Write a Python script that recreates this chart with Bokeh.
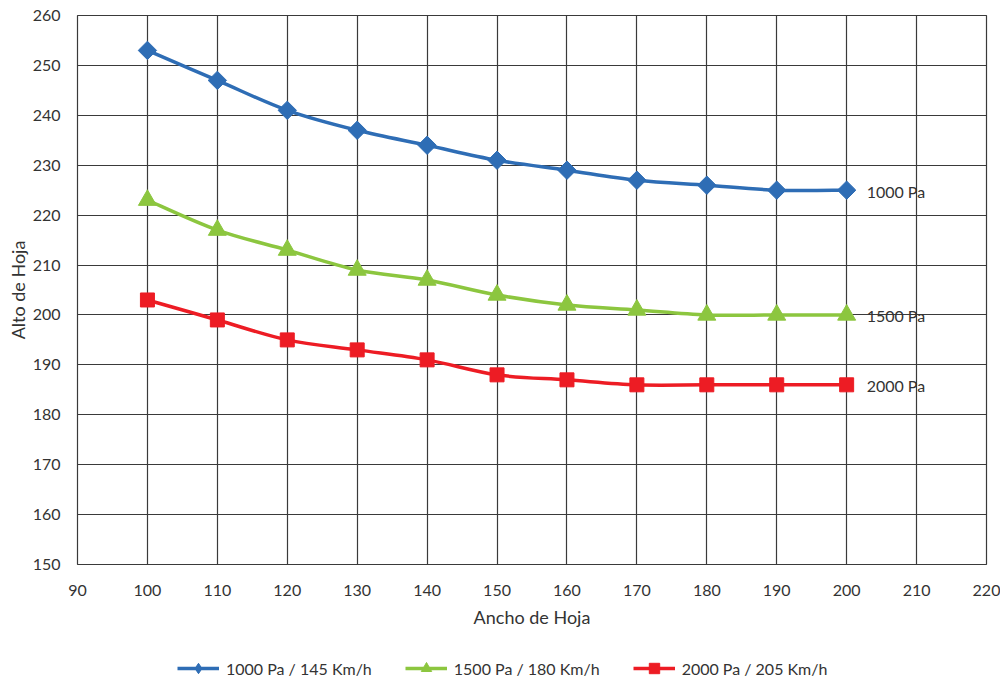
import numpy as np
from bokeh.plotting import figure
from bokeh.layouts import column
from bokeh.models import (Range1d, Legend, LegendItem, FixedTicker, ColumnDataSource)
from bokeh.core.properties import value
from bokeh.embed import file_html
from bokeh.resources import INLINE

# ---- data ----
ancho = [100, 110, 120, 130, 140, 150, 160, 170, 180, 190, 200]
alto_1000 = [253, 247, 241, 237, 234, 231, 229, 227, 226, 225, 225]
alto_1500 = [223, 217, 213, 209, 207, 204, 202, 201, 200, 200, 200]
alto_2000 = [203, 199, 195, 193, 191, 188, 187, 186, 186, 186, 186]
series_names = ["1000 Pa / 145 Km/h", "1500 Pa / 180 Km/h", "2000 Pa / 205 Km/h"]
end_labels = ["1000 Pa", "1500 Pa", "2000 Pa"]
x_ticks = [90, 100, 110, 120, 130, 140, 150, 160, 170, 180, 190, 200, 210, 220]
y_ticks = [150, 160, 170, 180, 190, 200, 210, 220, 230, 240, 250, 260]

FONT = "Lato"
TXT = "#333333"
GRID = "#3a3a3a"

colors = ["#2E6DB5", "#8CC63F", "#ED1C24"]
markers = ["square", "triangle", "square"]
legend_markers = ["diamond", "triangle", "square"]
angles = [np.pi / 4, 0, 0]
sizes = [13, 18, 14]
series = [alto_1000, alto_1500, alto_2000]


def smooth_segments(xs, ys):
    x = np.asarray(xs, float)
    y = np.asarray(ys, float)
    n = len(x)
    xp = np.concatenate([[x[0]], x, [x[-1]]])
    yp = np.concatenate([[y[0]], y, [y[-1]]])
    return dict(
        x0=xp[1:n], y0=yp[1:n],
        x1=xp[2:n + 1], y1=yp[2:n + 1],
        cx0=xp[1:n] + (xp[2:n + 1] - xp[0:n - 1]) / 6,
        cy0=yp[1:n] + (yp[2:n + 1] - yp[0:n - 1]) / 6,
        cx1=xp[2:n + 1] - (xp[3:n + 2] - xp[1:n]) / 6,
        cy1=yp[2:n + 1] - (yp[3:n + 2] - yp[1:n]) / 6,
    )


p = figure(width=1000, height=637, output_backend="svg", toolbar_location=None,
           x_range=Range1d(90, 220), y_range=Range1d(150, 260))
p.min_border_left = 77
p.min_border_top = 15
p.min_border_right = 14
p.min_border_bottom = 73

p.outline_line_color = GRID
p.outline_line_width = 1.2

for ax, ticks in ((p.xaxis[0], x_ticks), (p.yaxis[0], y_ticks)):
    ax.ticker = FixedTicker(ticks=ticks)
    ax.axis_line_color = None
    ax.major_tick_line_color = None
    ax.minor_tick_line_color = None
    ax.major_tick_out = 0
    ax.major_tick_in = 0
    ax.major_label_text_font = FONT
    ax.major_label_text_font_size = "16px"
    ax.major_label_text_color = TXT
    ax.axis_label_text_font = FONT
    ax.axis_label_text_font_size = "18px"
    ax.axis_label_text_font_style = "normal"
    ax.axis_label_text_color = TXT

p.xaxis.axis_label = "Ancho de Hoja"
p.yaxis.axis_label = "Alto de Hoja"
p.xaxis.major_label_standoff = 20
p.yaxis.major_label_standoff = 17
p.xaxis.axis_label_standoff = 7
p.yaxis.axis_label_standoff = 1

p.xgrid.ticker = FixedTicker(ticks=x_ticks)
p.ygrid.ticker = FixedTicker(ticks=y_ticks)
for g in (p.xgrid[0], p.ygrid[0]):
    g.grid_line_color = GRID
    g.grid_line_width = 1.2

for ys, c, m, a, s in zip(series, colors, markers, angles, sizes):
    seg = ColumnDataSource(smooth_segments(ancho, ys))
    p.bezier(x0="x0", y0="y0", x1="x1", y1="y1", cx0="cx0", cy0="cy0",
             cx1="cx1", cy1="cy1", source=seg, line_color=c, line_width=3.5)
    p.scatter(x=ancho, y=ys, marker=m, size=s, angle=a,
              fill_color=c, line_color=c, line_width=1)

lab_src = ColumnDataSource(dict(
    x=[ancho[-1]] * 3,
    y=[s[-1] for s in series],
    t=end_labels,
))
p.text(x="x", y="y", text="t", source=lab_src, x_offset=20, y_offset=1,
       text_font=value(FONT), text_font_size="16px", text_color=TXT,
       text_baseline="middle", text_align="left")

# ---- legend strip (its renderers lie outside its visible range) ----
lg = figure(width=1000, height=43, output_backend="svg", toolbar_location=None,
            x_range=Range1d(0, 1), y_range=Range1d(0, 1),
            x_axis_type=None, y_axis_type=None)
lg.min_border_left = 0
lg.min_border_right = 0
lg.min_border_top = 0
lg.min_border_bottom = 0
lg.outline_line_color = None
lg.xgrid.visible = False
lg.ygrid.visible = False

items = []
for name, ys, c, m in zip(series_names, series, colors, legend_markers):
    lr = lg.line(x=ancho, y=ys, line_color=c, line_width=3.5)
    sr = lg.scatter(x=ancho, y=ys, marker=m, fill_color=c, line_color=c)
    items.append(LegendItem(label=name, renderers=[lr, sr]))

legend = Legend(items=items, orientation="horizontal", location=(100, -1))
legend.glyph_width = 42
legend.glyph_height = 26
legend.label_height = 24
legend.label_standoff = 7
legend.spacing = 33
legend.padding = 0
legend.margin = 0
legend.border_line_alpha = 0
legend.background_fill_alpha = 0
legend.label_text_font = FONT
legend.label_text_font_size = "16px"
legend.label_text_color = TXT
lg.add_layout(legend, "center")

layout = column(p, lg, spacing=0)
open("out.html", "w").write(file_html(layout, INLINE))
